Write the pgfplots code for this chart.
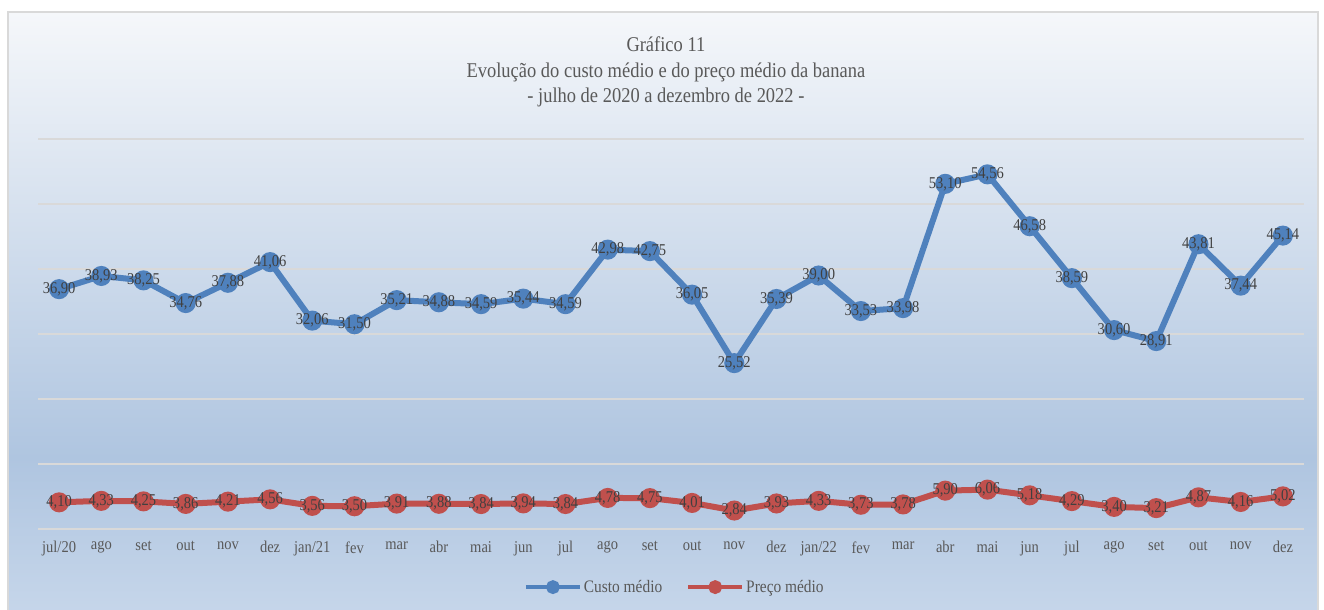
\documentclass[border=0pt]{standalone}
\usepackage{fontspec}
\setmainfont{Liberation Serif}[FakeStretch=0.88]
\usepackage{pgfplots}
\pgfplotsset{compat=1.18}
\definecolor{custo}{HTML}{4F81BD}
\definecolor{preco}{HTML}{C0504D}
\definecolor{gridc}{HTML}{D9D9D9}
\definecolor{txt}{HTML}{595959}
\definecolor{lbl}{HTML}{404040}
\definecolor{bgtop}{HTML}{F5F7FA}
\definecolor{bgmid}{HTML}{AFC5E0}
\definecolor{bgbot}{HTML}{C6D6EA}
\pgfdeclareverticalshading{bgshade}{100bp}{color(0bp)=(bgbot); color(25bp)=(bgbot); color(38bp)=(bgmid); color(75bp)=(bgtop); color(100bp)=(bgtop)}
\begin{document}
\begin{tikzpicture}
\path[use as bounding box] (0,0) rectangle (1324bp,610bp);
\fill[white] (0,0) rectangle (1324bp,610bp);
\shade[shading=bgshade] (8bp,-4bp) rectangle (1318bp,598bp);
\draw[gridc, line width=2bp] (8bp,-4bp) rectangle (1318bp,598bp);
\begin{axis}[
  at={(38bp,81bp)}, anchor=south west,
  scale only axis, width=1266bp, height=390bp,
  xmin=-0.5, xmax=29.5, ymin=0, ymax=60,
  ytick={0,10,...,60}, yticklabels={},
  ymajorgrids, grid style={gridc, line width=1.5bp},
  axis line style={draw=none},
  major tick length=0pt,
  xtick={0,...,29},
  xticklabels={jul/20,ago,set,out,nov,dez,jan/21,fev,mar,abr,mai,jun,jul,ago,set,out,nov,dez,jan/22,fev,mar,abr,mai,jun,jul,ago,set,out,nov,dez},
  xticklabel style={font=\fontsize{16.5bp}{18bp}\selectfont, text=txt, yshift=-9bp},
  /pgf/number format/.cd, use comma, fixed, fixed zerofill, precision=2, assume math mode=true, /pgfplots/.cd,
  nodes near coords,
  every node near coord/.append style={font=\fontsize{16.5bp}{18bp}\selectfont, text=lbl, anchor=center},
  title={Gráfico 11\\Evolução do custo médio e do preço médio da banana\\- julho de 2020 a dezembro de 2022 -},
  title style={at={(0.496,1.156)}, anchor=center, align=center, font=\fontsize{21bp}{25.5bp}\selectfont, text=txt},
  legend style={at={(0.503,-0.149)}, anchor=center, legend columns=2, draw=none, fill=none,
    font=\fontsize{17.5bp}{19bp}\selectfont, text=txt,
    /tikz/every even column/.append style={column sep=22bp}},
  legend image code/.code={\draw[#1, line width=4bp, every mark/.append style={scale=0.7}, mark repeat=2, mark phase=2] plot coordinates {(0bp,0bp) (27bp,0bp) (54bp,0bp)};},
]
\addplot[custo, line width=6bp, mark=*, mark size=7bp, mark options={solid, fill=custo, draw=custo}] coordinates {
(0,36.90) (1,38.93) (2,38.25) (3,34.76) (4,37.88) (5,41.06) (6,32.06) (7,31.50) (8,35.21) (9,34.88)
(10,34.59) (11,35.44) (12,34.59) (13,42.98) (14,42.75) (15,36.05) (16,25.52) (17,35.39) (18,39.00) (19,33.53)
(20,33.98) (21,53.10) (22,54.56) (23,46.58) (24,38.59) (25,30.60) (26,28.91) (27,43.81) (28,37.44) (29,45.14)};
\addlegendentry{Custo médio}
\addplot[preco, line width=6bp, mark=*, mark size=7bp, mark options={solid, fill=preco, draw=preco}] coordinates {
(0,4.10) (1,4.33) (2,4.25) (3,3.86) (4,4.21) (5,4.56) (6,3.56) (7,3.50) (8,3.91) (9,3.88)
(10,3.84) (11,3.94) (12,3.84) (13,4.78) (14,4.75) (15,4.01) (16,2.84) (17,3.93) (18,4.33) (19,3.73)
(20,3.78) (21,5.90) (22,6.06) (23,5.18) (24,4.29) (25,3.40) (26,3.21) (27,4.87) (28,4.16) (29,5.02)};
\addlegendentry{Preço médio}
\end{axis}
\end{tikzpicture}
\end{document}
